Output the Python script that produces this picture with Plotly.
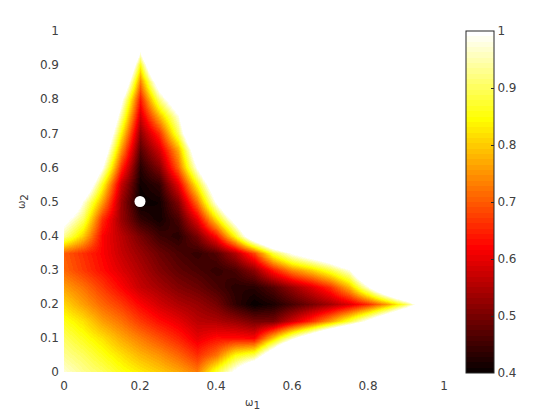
import plotly.graph_objects as go

# grid of omega values, 0.05 apart
omega1 = [i / 20 for i in range(21)]
omega2 = [j / 20 for j in range(21)]

# one row per omega2 (bottom to top), values above 1 just show white
z_00 = [.97, .93, .90, .86, .83, .80, .77, .73, .88, 1.02, 1.2, 1.4, 1.6, 1.8, 1.9, 2, 2, 2, 2, 2, 2]
z_05 = [.93, .90, .86, .82, .78, .75, .71, .66, .72, .85, .90, 1.12, 1.35, 1.55, 1.7, 1.9, 2, 2, 2, 2, 2]
z_10 = [.90, .86, .82, .77, .73, .69, .65, .60, .63, .63, .62, .80, .97, 1.12, 1.3, 1.45, 1.6, 1.8, 2, 2, 2]
z_15 = [.86, .82, .76, .72, .67, .63, .60, .56, .55, .53, .50, .50, .58, .66, .76, .88, 1.02, 1.18, 1.35, 1.6, 1.8]
z_20 = [.81, .76, .71, .67, .62, .58, .55, .53, .50, .44, .40, .42, .46, .50, .54, .59, .66, .76, .90, 1.1, 1.3]
z_25 = [.76, .72, .67, .62, .57, .54, .51, .49, .46, .43, .43, .47, .53, .59, .66, .78, .98, 1.2, 1.4, 1.6, 1.8]
z_30 = [.71, .67, .63, .59, .55, .51, .48, .46, .44, .46, .52, .64, .74, .80, .88, .98, 1.25, 1.45, 1.6, 1.8, 2]
z_35 = [.70, .66, .62, .57, .53, .49, .46, .44, .47, .55, .68, .88, 1.0, 1.08, 1.15, 1.3, 1.5, 1.7, 1.9, 2, 2]
z_40 = [.93, .80, .62, .56, .50, .45, .43, .50, .63, .85, 1.12, 1.3, 1.45, 1.55, 1.65, 1.8, 2, 2, 2, 2, 2]
z_45 = [1.03, .90, .66, .53, .44, .41, .46, .60, .82, 1.05, 1.3, 1.55, 1.8, 2, 2, 2, 2, 2, 2, 2, 2]
z_50 = [1.2, .98, .76, .53, .40, .41, .51, .72, 1.0, 1.25, 1.55, 1.8, 2, 2, 2, 2, 2, 2, 2, 2, 2]
z_55 = [1.4, 1.15, .86, .57, .41, .44, .60, .85, 1.12, 1.4, 1.7, 2, 2, 2, 2, 2, 2, 2, 2, 2, 2]
z_60 = [1.6, 1.3, 1.0, .66, .43, .51, .71, 1.0, 1.3, 1.6, 2, 2, 2, 2, 2, 2, 2, 2, 2, 2, 2]
z_65 = [1.8, 1.45, 1.1, .75, .47, .58, .77, 1.1, 1.45, 1.8, 2, 2, 2, 2, 2, 2, 2, 2, 2, 2, 2]
z_70 = [2, 1.6, 1.2, .84, .52, .66, .90, 1.25, 1.6, 2, 2, 2, 2, 2, 2, 2, 2, 2, 2, 2, 2]
z_75 = [2, 1.8, 1.3, .93, .58, .78, .98, 1.35, 1.8, 2, 2, 2, 2, 2, 2, 2, 2, 2, 2, 2, 2]
z_80 = [2, 2, 1.45, 1.02, .64, .92, 1.12, 1.5, 2, 2, 2, 2, 2, 2, 2, 2, 2, 2, 2, 2, 2]
z_85 = [2, 2, 1.6, 1.18, .73, 1.08, 1.3, 1.7, 2, 2, 2, 2, 2, 2, 2, 2, 2, 2, 2, 2, 2]
z_90 = [2, 2, 1.8, 1.35, .85, 1.3, 1.7, 2, 2, 2, 2, 2, 2, 2, 2, 2, 2, 2, 2, 2, 2]
z_95 = [2, 2, 2, 1.6, 1.03, 1.6, 2, 2, 2, 2, 2, 2, 2, 2, 2, 2, 2, 2, 2, 2, 2]
z_100 = [2, 2, 2, 1.8, 1.3, 1.8, 2, 2, 2, 2, 2, 2, 2, 2, 2, 2, 2, 2, 2, 2, 2]
z = [z_00, z_05, z_10, z_15, z_20, z_25, z_30, z_35, z_40, z_45, z_50,
     z_55, z_60, z_65, z_70, z_75, z_80, z_85, z_90, z_95, z_100]

# marked optimum
dot_x = [0.2]
dot_y = [0.5]

x_ticks = [0, 0.2, 0.4, 0.6, 0.8, 1]
y_ticks = [0, 0.1, 0.2, 0.3, 0.4, 0.5, 0.6, 0.7, 0.8, 0.9, 1]
bar_ticks = [0.4, 0.5, 0.6, 0.7, 0.8, 0.9, 1]

# page has an 8px body margin, so the figure sits 8px in from the window corner
W, H = 544, 404
TEXT = "#404040"
FONT = "DejaVu Sans"


def hot_scale(n=64):
    # matlab hot, stepped into n bands like the original colorbar
    scale = []
    for i in range(n):
        t = (i + 1) / n
        r = min(1, t / 0.375)
        g = min(1, max(0, (t - 0.375) / 0.375))
        b = min(1, max(0, (t - 0.75) / 0.25))
        col = f"rgb({round(r * 255)},{round(g * 255)},{round(b * 255)})"
        scale.append([i / n, col])
        scale.append([(i + 1) / n, col])
    return scale


fig = go.Figure()

fig.add_trace(go.Heatmap(
    x=omega1, y=omega2, z=z,
    zmin=0.4, zmax=1, zsmooth="best",
    colorscale=hot_scale(),
    colorbar=dict(
        x=458 / W, xanchor="left", xpad=0,
        y=39 / H, yanchor="bottom", ypad=0,
        lenmode="pixels", len=342,
        thicknessmode="pixels", thickness=28,
        tickvals=bar_ticks, ticktext=[f"{v:g}" for v in bar_ticks],
        ticks="inside", ticklen=3, tickcolor="#262626", tickwidth=1,
        outlinecolor="#262626", outlinewidth=1,
        tickfont=dict(family=FONT, size=12, color=TEXT),
    ),
    hoverinfo="skip",
))

fig.add_trace(go.Scatter(
    x=dot_x, y=dot_y, mode="markers",
    marker=dict(size=11, color="white"),
    showlegend=False, hoverinfo="skip",
))

fig.update_layout(
    width=W, height=H,
    margin=dict(l=0, r=0, t=0, b=0, autoexpand=False),
    paper_bgcolor="white", plot_bgcolor="white",
    xaxis=dict(
        domain=[56 / W, 436 / W], range=[0, 1],
        tickvals=x_ticks, ticktext=[f"{v:g}" for v in x_ticks],
        showgrid=False, zeroline=False, showline=False, ticks="",
        ticklabelstandoff=5,
        tickfont=dict(family=FONT, size=12, color=TEXT),
    ),
    yaxis=dict(
        domain=[40 / H, 381 / H], range=[0, 1],
        tickvals=y_ticks, ticktext=[f"{v:g}" for v in y_ticks],
        showgrid=False, zeroline=False, showline=False, ticks="",
        ticklabelstandoff=4,
        tickfont=dict(family=FONT, size=12, color=TEXT),
    ),
    annotations=[
        dict(text="<span style='font-size:10px'>ω</span><sub>1</sub>", xref="paper", yref="paper",
             x=244 / W, y=(H - 396) / H, yanchor="middle", showarrow=False,
             font=dict(family=FONT, size=15, color=TEXT)),
        dict(text="<span style='font-size:10px'>ω</span><sub>2</sub>", xref="paper", yref="paper",
             x=6 / W, y=(H - 194) / H, textangle=-90, showarrow=False,
             font=dict(family=FONT, size=15, color=TEXT)),
    ],
)

fig.write_html("out.html")
